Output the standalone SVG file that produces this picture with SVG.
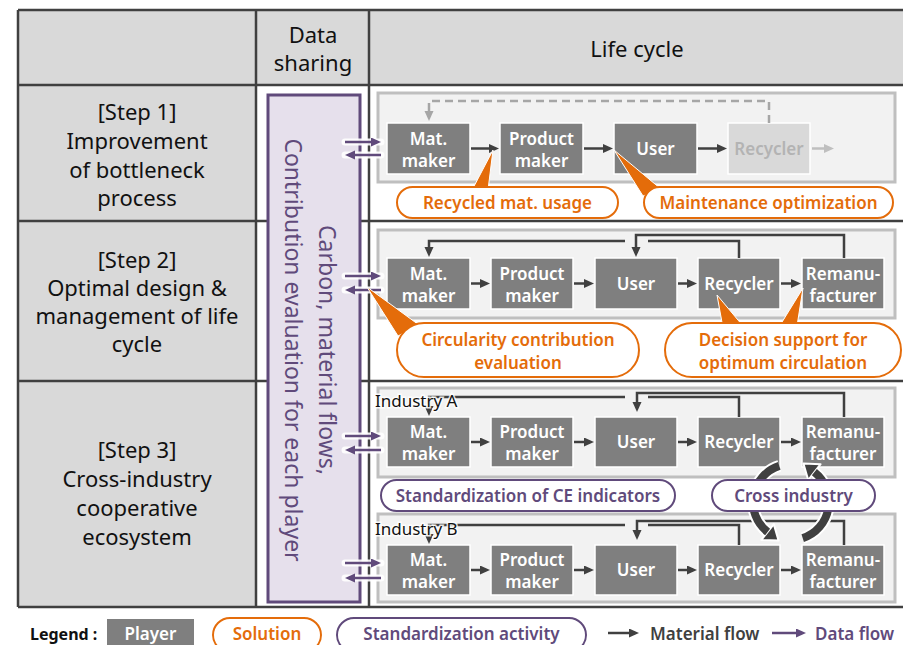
<svg xmlns="http://www.w3.org/2000/svg" width="903" height="645" viewBox="0 0 903 645">
<defs>
<style>
.grid{stroke:#404040;stroke-width:2.5;fill:none}
.t22{font-family:"Noto Sans","Open Sans",sans-serif;font-size:22px;fill:#111;text-anchor:middle}
.frame{fill:#f2f2f2;stroke:#bfbfbf;stroke-width:3}
.box{fill:#7f7f7f;stroke:#fff;stroke-width:1.5}
.bt{font-family:"Noto Sans","Open Sans",sans-serif;font-size:17px;font-weight:600;fill:#fff;text-anchor:middle}
.mf{stroke:#404040;stroke-width:2.5;fill:none}
.df{stroke:#604a7b;stroke-width:2.5;fill:none}
.halo{stroke:#fff;stroke-width:7;fill:none;stroke-linecap:round;opacity:0.9}
.sol{fill:#fff;stroke:#e46c0a;stroke-width:2}
.std{fill:#fff;stroke:#604a7b;stroke-width:2}
.pt{font-family:"Noto Sans","Open Sans",sans-serif;font-size:17px;font-weight:600;text-anchor:middle}
.ot{fill:#e46c0a}
.ut{fill:#604a7b}
.wedge{fill:#e46c0a;stroke:#fff;stroke-width:1}
.ind{font-family:"Noto Sans","Open Sans",sans-serif;font-size:17px;fill:#111;stroke:#fff;stroke-width:3;paint-order:stroke;stroke-opacity:0.85}
.lg{font-family:"Noto Sans","Open Sans",sans-serif;font-size:17px;font-weight:600}
</style>
<marker id="am" markerUnits="userSpaceOnUse" markerWidth="11" markerHeight="10" refX="6" refY="4.5" orient="auto"><path d="M0,0 L10,4.5 L0,9 z" fill="#404040"/></marker>
<marker id="ag" markerUnits="userSpaceOnUse" markerWidth="11" markerHeight="10" refX="6" refY="4.5" orient="auto"><path d="M0,0 L10,4.5 L0,9 z" fill="#bfbfbf"/></marker>
<marker id="ad" markerUnits="userSpaceOnUse" markerWidth="11" markerHeight="10" refX="6" refY="4.5" orient="auto"><path d="M0,0 L10,4.5 L0,9 z" fill="#a6a6a6"/></marker>
<marker id="ap" markerUnits="userSpaceOnUse" markerWidth="11" markerHeight="10" refX="6" refY="4.5" orient="auto"><path d="M0,0 L10,4.5 L0,9 z" fill="#604a7b"/></marker>
</defs>

<g id="table">
<rect x="18" y="10" width="885" height="75" fill="#d9d9d9"/>
<rect x="18" y="85" width="238" height="522" fill="#d9d9d9"/>
<path class="grid" d="M18 10 H903 M18 85 H903 M18 221 H903 M18 381 H903 M18 607 H903 M18 10 V607 M256 10 V607 M369 10 V607"/>
<text class="t22"><tspan x="313" y="43">Data</tspan><tspan x="313" y="71">sharing</tspan></text>
<text class="t22" x="637" y="57">Life cycle</text>
<text class="t22"><tspan x="137" y="120">[Step 1]</tspan><tspan x="137" y="149">Improvement</tspan><tspan x="137" y="178">of bottleneck</tspan><tspan x="137" y="206">process</tspan></text>
<text class="t22"><tspan x="137" y="268">[Step 2]</tspan><tspan x="137" y="296">Optimal design &amp;</tspan><tspan x="137" y="324">management of life</tspan><tspan x="137" y="352">cycle</tspan></text>
<text class="t22"><tspan x="137" y="458">[Step 3]</tspan><tspan x="137" y="487">Cross-industry</tspan><tspan x="137" y="516">cooperative</tspan><tspan x="137" y="545">ecosystem</tspan></text>
</g>

<g id="data-sharing">
<rect x="268" y="95" width="92" height="507" fill="#e6e0ec" stroke="#604a7b" stroke-width="3"/>
<text transform="translate(314,350) rotate(90)" font-family="Noto Sans, Open Sans, sans-serif" font-size="23" fill="#604a7b" text-anchor="middle"><tspan x="0" y="-5">Carbon, material flows,</tspan><tspan x="0" y="29">Contribution evaluation for each player</tspan></text>
</g>

<g id="frames">
<rect class="frame" x="378" y="93" width="517" height="89"/>
<rect class="frame" x="378" y="230" width="517" height="88"/>
<rect class="frame" x="378" y="388" width="517" height="89"/>
<rect class="frame" x="378" y="514" width="517" height="88"/>
</g>

<g id="step1-mat"><rect class="box" x="387" y="123" width="83" height="51"/><text class="bt"><tspan x="428.5" y="145">Mat.</tspan><tspan x="428.5" y="167">maker</tspan></text></g>
<g id="step1-product"><rect class="box" x="500" y="123" width="83" height="51"/><text class="bt"><tspan x="541.5" y="145">Product</tspan><tspan x="541.5" y="167">maker</tspan></text></g>
<g id="step1-user"><rect class="box" x="614" y="123" width="83" height="51"/><text class="bt" x="655.5" y="155">User</text></g>
<g id="step1-recycler"><rect x="728" y="123" width="82" height="51" fill="#d9d9d9" stroke="#fff" stroke-width="1.5"/><text class="bt" x="769" y="155" style="fill:#b3b3b3">Recycler</text></g>

<g id="step2-mat"><rect class="box" x="387" y="258" width="83" height="51"/><text class="bt"><tspan x="428.5" y="280">Mat.</tspan><tspan x="428.5" y="302">maker</tspan></text></g>
<g id="step2-product"><rect class="box" x="491" y="258" width="82" height="51"/><text class="bt"><tspan x="532" y="280">Product</tspan><tspan x="532" y="302">maker</tspan></text></g>
<g id="step2-user"><rect class="box" x="595" y="258" width="82" height="51"/><text class="bt" x="636" y="290">User</text></g>
<g id="step2-recycler"><rect class="box" x="698" y="258" width="82" height="51"/><text class="bt" x="739" y="290">Recycler</text></g>
<g id="step2-remanu"><rect class="box" x="802" y="258" width="82" height="51"/><text class="bt"><tspan x="843" y="280">Remanu-</tspan><tspan x="843" y="302">facturer</tspan></text></g>

<g id="step3a-mat"><rect class="box" x="387" y="417" width="83" height="50"/><text class="bt"><tspan x="428.5" y="438">Mat.</tspan><tspan x="428.5" y="460">maker</tspan></text></g>
<g id="step3a-product"><rect class="box" x="491" y="417" width="82" height="50"/><text class="bt"><tspan x="532" y="438">Product</tspan><tspan x="532" y="460">maker</tspan></text></g>
<g id="step3a-user"><rect class="box" x="595" y="417" width="82" height="50"/><text class="bt" x="636" y="448">User</text></g>
<g id="step3a-recycler"><rect class="box" x="698" y="417" width="82" height="50"/><text class="bt" x="739" y="448">Recycler</text></g>
<g id="step3a-remanu"><rect class="box" x="802" y="417" width="82" height="50"/><text class="bt"><tspan x="843" y="438">Remanu-</tspan><tspan x="843" y="460">facturer</tspan></text></g>

<g id="step3b-mat"><rect class="box" x="387" y="545" width="83" height="50"/><text class="bt"><tspan x="428.5" y="566">Mat.</tspan><tspan x="428.5" y="588">maker</tspan></text></g>
<g id="step3b-product"><rect class="box" x="491" y="545" width="82" height="50"/><text class="bt"><tspan x="532" y="566">Product</tspan><tspan x="532" y="588">maker</tspan></text></g>
<g id="step3b-user"><rect class="box" x="595" y="545" width="82" height="50"/><text class="bt" x="636" y="576">User</text></g>
<g id="step3b-recycler"><rect class="box" x="698" y="545" width="82" height="50"/><text class="bt" x="739" y="576">Recycler</text></g>
<g id="step3b-remanu"><rect class="box" x="802" y="545" width="82" height="50"/><text class="bt"><tspan x="843" y="566">Remanu-</tspan><tspan x="843" y="588">facturer</tspan></text></g>

<g id="connectors">
<path d="M769 123 V101 H429 V117" fill="none" stroke="#a6a6a6" stroke-width="2.5" stroke-dasharray="8 5" marker-end="url(#ad)"/>
<path class="mf" d="M471 148.5 H495" marker-end="url(#am)"/>
<path class="mf" d="M584 148.5 H609" marker-end="url(#am)"/>
<path class="mf" d="M698 148.5 H723" marker-end="url(#am)"/>
<path d="M812 148.5 H830" fill="none" stroke="#bfbfbf" stroke-width="2.5" marker-end="url(#ag)"/>
<path class="mf" d="M471 283.5 H486" marker-end="url(#am)"/>
<path class="mf" d="M574 283.5 H590" marker-end="url(#am)"/>
<path class="mf" d="M678 283.5 H693" marker-end="url(#am)"/>
<path class="mf" d="M781 283.5 H797" marker-end="url(#am)"/>
<path class="mf" d="M739 258 V241 H648"/>
<path class="mf" d="M625 241 H429 V253" marker-end="url(#am)"/>
<path class="mf" d="M844 258 V235 H636 V253" marker-end="url(#am)"/>
<path class="mf" d="M471 442 H486" marker-end="url(#am)"/>
<path class="mf" d="M574 442 H590" marker-end="url(#am)"/>
<path class="mf" d="M678 442 H693" marker-end="url(#am)"/>
<path class="mf" d="M781 442 H797" marker-end="url(#am)"/>
<path class="mf" d="M739 417 V397 H648"/>
<path class="mf" d="M625 397 H429 V412" marker-end="url(#am)"/>
<path class="mf" d="M844 417 V393 H637 V408" marker-end="url(#am)"/>
<path class="mf" d="M471 570 H486" marker-end="url(#am)"/>
<path class="mf" d="M574 570 H590" marker-end="url(#am)"/>
<path class="mf" d="M678 570 H693" marker-end="url(#am)"/>
<path class="mf" d="M781 570 H797" marker-end="url(#am)"/>
<path class="mf" d="M739 545 V525 H648"/>
<path class="mf" d="M625 525 H429 V540" marker-end="url(#am)"/>
<path class="mf" d="M844 545 V521 H637 V536" marker-end="url(#am)"/>
<path class="halo" d="M345 142 H381 M345 155 H381 M345 276 H381 M345 290 H381 M345 436 H381 M345 450 H381 M345 563 H381 M345 578 H381"/>
<path class="df" d="M345 142 H377" marker-end="url(#ap)"/>
<path class="df" d="M381 155 H349" marker-end="url(#ap)"/>
<path class="df" d="M345 276 H377" marker-end="url(#ap)"/>
<path class="df" d="M381 290 H349" marker-end="url(#ap)"/>
<path class="df" d="M345 436 H377" marker-end="url(#ap)"/>
<path class="df" d="M381 450 H349" marker-end="url(#ap)"/>
<path class="df" d="M345 563 H377" marker-end="url(#ap)"/>
<path class="df" d="M381 578 H349" marker-end="url(#ap)"/>
<path d="M779.3 465.9 A38 38 0 0 0 767.6 532 M802.7 538.1 A38 38 0 0 0 814.4 472.1" fill="none" stroke="#fff" stroke-width="12"/>
<polygon points="761.4,539.9 773.8,524.1 778.6,540.6" fill="#404040" stroke="#fff" stroke-width="2" stroke-linejoin="round"/>
<polygon points="820.6,464.2 808.2,480 803.4,463.5" fill="#404040" stroke="#fff" stroke-width="2" stroke-linejoin="round"/>
<path d="M779.3 465.9 A38 38 0 0 0 767.6 532 M802.7 538.1 A38 38 0 0 0 814.4 472.1" fill="none" stroke="#404040" stroke-width="8"/>
<polygon class="wedge" points="493,150 471,192 488,190"/>
<polygon class="wedge" points="614,150 643,196 661,189"/>
<polygon class="wedge" points="367,287 398,336 419,325"/>
<polygon class="wedge" points="717,295 723,328 743,326"/>
<polygon class="wedge" points="803,288 779,327 797,326"/>
</g>

<g id="industry-labels">
<text class="ind" x="375" y="407">Industry A</text>
<text class="ind" x="375" y="535">Industry B</text>
</g>

<g id="sol-recycled"><rect class="sol" x="397" y="187" width="221" height="31" rx="15.5"/><text class="pt ot" x="507.5" y="208.5">Recycled mat. usage</text></g>
<g id="sol-maintenance"><rect class="sol" x="644" y="187" width="249" height="31" rx="15.5"/><text class="pt ot" x="768.5" y="208.5">Maintenance optimization</text></g>
<g id="sol-circularity"><rect class="sol" x="397" y="323" width="242" height="54" rx="27"/><text class="pt ot"><tspan x="518" y="346">Circularity contribution</tspan><tspan x="518" y="369">evaluation</tspan></text></g>
<g id="sol-decision"><rect class="sol" x="665" y="323" width="236" height="54" rx="27"/><text class="pt ot"><tspan x="783" y="346">Decision support for</tspan><tspan x="783" y="369">optimum circulation</tspan></text></g>
<g id="std-ce"><rect class="std" x="381" y="480" width="294" height="31" rx="15.5"/><text class="pt ut" x="528" y="501.5">Standardization of CE indicators</text></g>
<g id="std-cross"><rect class="std" x="712" y="480" width="163" height="31" rx="15.5"/><text class="pt ut" x="793.5" y="501.5">Cross industry</text></g>

<g id="legend">
<text class="lg" x="30" y="640" fill="#111" style="font-size:16px;font-weight:700">Legend :</text>
<rect x="107" y="619" width="87" height="32" fill="#7f7f7f"/>
<text class="lg" x="150.5" y="640" fill="#fff" text-anchor="middle">Player</text>
<rect class="sol" x="213" y="618" width="108" height="34" rx="17"/>
<text class="lg" x="267" y="640" fill="#e46c0a" text-anchor="middle">Solution</text>
<rect class="std" x="337" y="618" width="249" height="34" rx="17"/>
<text class="lg" x="461.5" y="640" fill="#604a7b" text-anchor="middle">Standardization activity</text>
<path class="mf" d="M608 633 H635" marker-end="url(#am)"/>
<text class="lg" x="650" y="640" fill="#404040">Material flow</text>
<path class="df" d="M772 633 H802" marker-end="url(#ap)"/>
<text class="lg" x="815" y="640" fill="#604a7b">Data flow</text>
</g>
</svg>
